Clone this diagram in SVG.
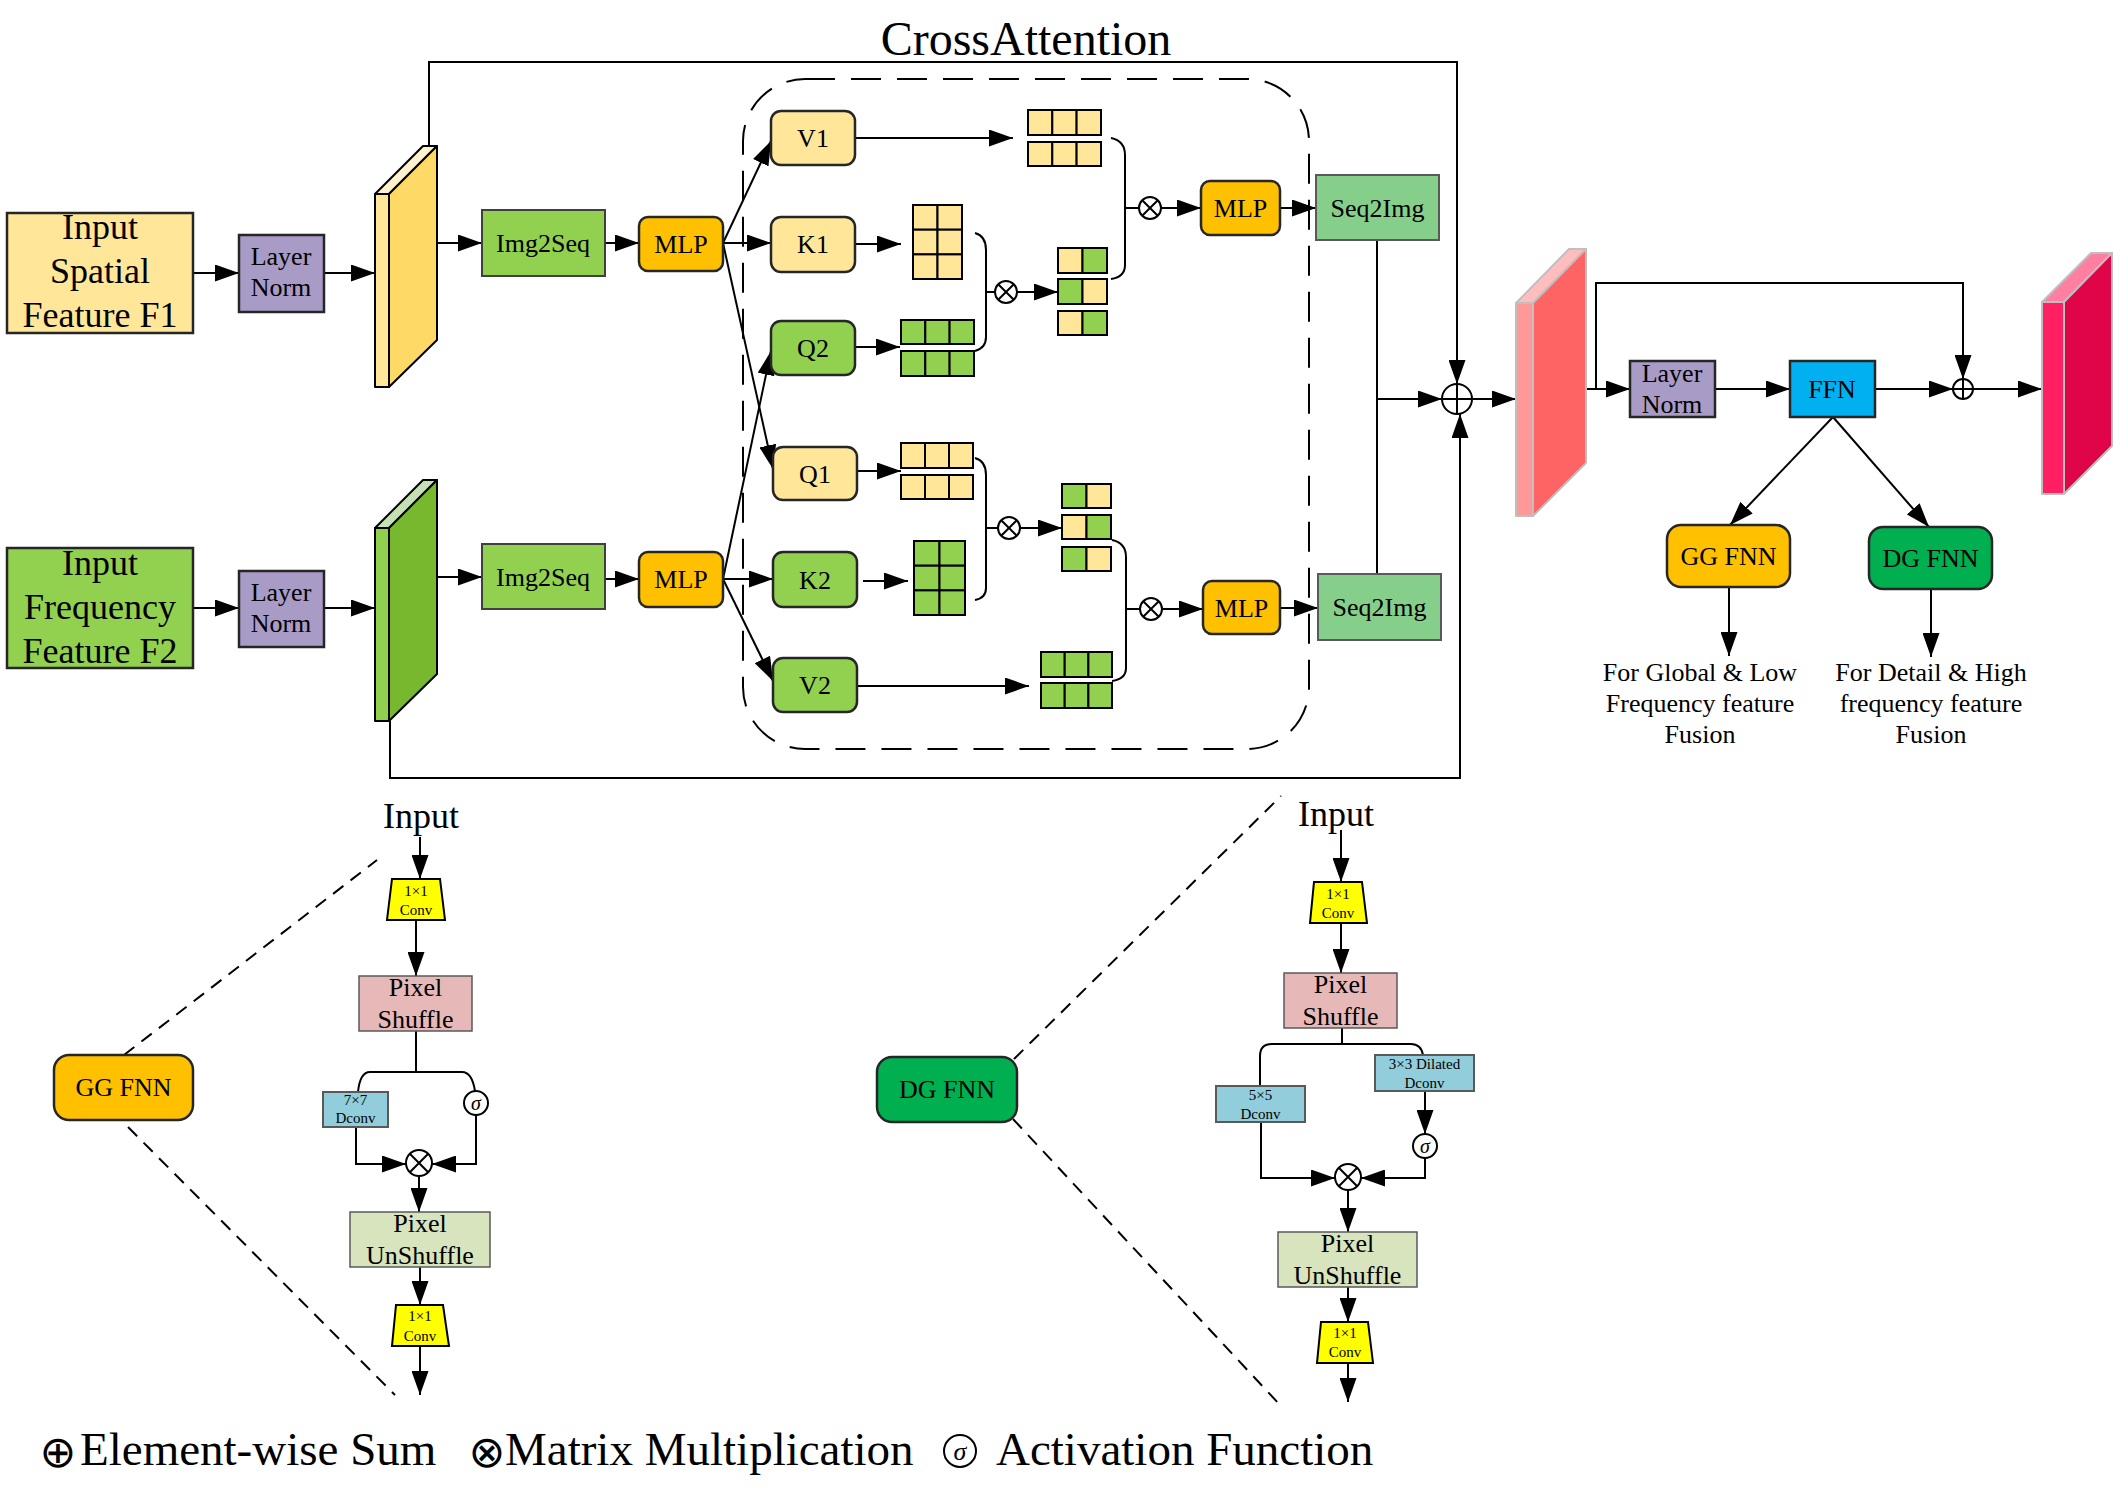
<svg xmlns="http://www.w3.org/2000/svg" width="2114" height="1500" viewBox="0 0 2114 1500">
<defs>
<marker id="ah" markerUnits="userSpaceOnUse" markerWidth="24" markerHeight="17" refX="24" refY="8.5" orient="auto"><path d="M0,0 L24,8.5 L0,17 z" fill="#000"/></marker>
<style>
.t{font-family:"Liberation Serif","Times New Roman",serif;fill:#000;text-anchor:middle}
.f36{font-size:36px}.f26{font-size:26px}.f15{font-size:15px}.f48{font-size:48px}
.ln{stroke:#000;stroke-width:2;fill:none}
.ar{stroke:#000;stroke-width:2;fill:none;marker-end:url(#ah)}
.dash{stroke:#000;stroke-width:2;fill:none;stroke-dasharray:13 9}
.box{stroke:#262626;stroke-width:2.5}
.cy{fill:#FFE699;stroke:#000;stroke-width:2}
.cg{fill:#92D050;stroke:#000;stroke-width:2}
.op{fill:#fff;stroke:#000;stroke-width:2}
</style>
</defs>
<rect width="2114" height="1500" fill="#fff"/>

<g id="title"><text class="t f48" x="1026" y="55">CrossAttention</text></g>

<g id="connectors">
<rect x="743" y="79" width="566" height="670" rx="62" fill="none" stroke="#000" stroke-width="2" stroke-dasharray="30 16"/>
<path class="ar" d="M193,273 H239"/>
<path class="ar" d="M324,273 H375"/>
<path class="ar" d="M437,243 H482"/>
<path class="ar" d="M605,243 H639"/>
<path class="ar" d="M723,243 L771,141"/>
<path class="ar" d="M723,243 H771"/>
<path class="ar" d="M723,243 L773,469"/>
<path class="ar" d="M723,579 L771,351"/>
<path class="ar" d="M723,579 H773"/>
<path class="ar" d="M723,579 L773,681"/>
<path class="ar" d="M193,608 H239"/>
<path class="ar" d="M324,608 H375"/>
<path class="ar" d="M437,577 H482"/>
<path class="ar" d="M605,579 H639"/>
<path class="ar" d="M429,146 V62 H1457 V384"/>
<path class="ar" d="M390,721 V778 H1460 V414"/>
<path class="ar" d="M855,138 H1013"/>
<path class="ar" d="M855,244 H901"/>
<path class="ar" d="M855,347 H900"/>
<path class="ln" d="M975,233 Q986,236 986,250 V337 Q986,348 975,351 M986,292 H995"/>
<path class="ar" d="M1017,292 H1058"/>
<path class="ln" d="M1111,138 Q1125,141 1125,155 V265 Q1125,277 1111,279 M1125,208 H1139"/>
<path class="ar" d="M1161,208 H1201"/>
<path class="ar" d="M1280,208 H1316"/>
<path class="ln" d="M1377,240 V574"/>
<path class="ar" d="M1377,399 H1442"/>
<path class="ar" d="M857,471 H901"/>
<path class="ar" d="M863,581 H908"/>
<path class="ar" d="M857,686 H1029"/>
<path class="ln" d="M975,458 Q986,461 986,475 V588 Q986,598 975,600 M986,528 H998"/>
<path class="ar" d="M1020,528 H1062"/>
<path class="ln" d="M1112,540 Q1126,543 1126,557 V668 Q1126,679 1112,681 M1126,609 H1140"/>
<path class="ar" d="M1162,609 H1203"/>
<path class="ar" d="M1280,608 H1318"/>
<path class="ar" d="M1472,399 H1516"/>
<path class="ar" d="M1564,389 H1630"/>
<path class="ar" d="M1596,389 V283 H1963 V379"/>
<path class="ar" d="M1715,389 H1790"/>
<path class="ar" d="M1875,389 H1953"/>
<path class="ar" d="M1973,389 H2042"/>
<path class="ar" d="M1833,417 L1730,525"/>
<path class="ar" d="M1833,417 L1929,527"/>
<path class="ar" d="M1729,587 V656"/>
<path class="ar" d="M1931,589 V657"/>
<!-- GG FNN detail -->
<path class="ar" d="M420,837 V879"/>
<path class="ar" d="M416,920 V976"/>
<path class="ln" d="M416,1031 V1072 M358,1092 Q360,1072 370,1072 H462 Q472,1072 475,1091"/>
<path class="ar" d="M356,1127 V1164 H406"/>
<path class="ar" d="M476,1115 V1164 H432"/>
<path class="ar" d="M419,1176 V1212"/>
<path class="ar" d="M420,1267 V1305"/>
<path class="ar" d="M420,1346 V1395"/>
<path class="dash" d="M124,1055 L377,860"/>
<path class="dash" d="M128,1127 L395,1395"/>
<!-- DG FNN detail -->
<path class="ar" d="M1341,830 V882"/>
<path class="ar" d="M1341,923 V973"/>
<path class="ln" d="M1342,1028 V1044 M1260,1086 V1056 Q1260,1044 1272,1044 H1411 Q1421,1044 1423,1055"/>
<path class="ar" d="M1425,1091 V1134"/>
<path class="ar" d="M1425,1158 V1178 H1361"/>
<path class="ar" d="M1261,1122 V1178 H1335"/>
<path class="ar" d="M1348,1190 V1232"/>
<path class="ar" d="M1348,1287 V1322"/>
<path class="ar" d="M1348,1363 V1402"/>
<path class="dash" d="M1014,1059 L1281,796"/>
<path class="dash" d="M1013,1119 L1281,1406"/>
</g>

<g id="in_f1"><rect x="7" y="213" width="186" height="120" fill="#FFE699" class="box"/>
<text class="t f36" x="100" y="239">Input</text><text class="t f36" x="100" y="283">Spatial</text><text class="t f36" x="100" y="327">Feature F1</text></g>
<g id="ln1"><rect x="239" y="235" width="85" height="77" fill="#A89BC5" class="box"/>
<text class="t f26" x="281" y="265">Layer</text><text class="t f26" x="281" y="296">Norm</text></g>
<g id="slab1" stroke="#000" stroke-width="2" stroke-linejoin="round">
<polygon points="375,194 389,194 389,387 375,387" fill="#FFE699"/>
<polygon points="375,194 423,146 437,146 389,194" fill="#FFF2CC"/>
<polygon points="389,194 437,146 437,340 389,387" fill="#FFD966"/></g>
<g id="img2seq1"><rect x="482" y="210" width="123" height="66" fill="#92D050" stroke="#404040" stroke-width="2"/><text class="t f26" x="543" y="252">Img2Seq</text></g>
<g id="mlp1"><rect x="639" y="217" width="84" height="54" rx="9" fill="#FFC000" class="box"/><text class="t f26" x="681" y="253">MLP</text></g>
<g id="v1"><rect x="771" y="111" width="84" height="54" rx="10" fill="#FFE699" class="box"/><text class="t f26" x="813" y="147">V1</text></g>
<g id="k1"><rect x="771" y="217" width="84" height="55" rx="10" fill="#FFE699" class="box"/><text class="t f26" x="813" y="253">K1</text></g>
<g id="q2"><rect x="771" y="321" width="84" height="54" rx="10" fill="#92D050" class="box"/><text class="t f26" x="813" y="357">Q2</text></g>
<g id="grid_v1"><rect class="cy" x="1028" y="110" width="24.3" height="25"/><rect class="cy" x="1052.3" y="110" width="24.3" height="25"/><rect class="cy" x="1076.6" y="110" width="24.4" height="25"/>
<rect class="cy" x="1028" y="142" width="24.3" height="24"/><rect class="cy" x="1052.3" y="142" width="24.3" height="24"/><rect class="cy" x="1076.6" y="142" width="24.4" height="24"/></g>
<g id="grid_k1"><rect class="cy" x="913" y="205" width="24.5" height="24.7"/><rect class="cy" x="937.5" y="205" width="24.5" height="24.7"/>
<rect class="cy" x="913" y="229.7" width="24.5" height="24.7"/><rect class="cy" x="937.5" y="229.7" width="24.5" height="24.7"/>
<rect class="cy" x="913" y="254.4" width="24.5" height="24.6"/><rect class="cy" x="937.5" y="254.4" width="24.5" height="24.6"/></g>
<g id="grid_q2"><rect class="cg" x="901" y="320" width="24.3" height="24"/><rect class="cg" x="925.3" y="320" width="24.3" height="24"/><rect class="cg" x="949.6" y="320" width="24.4" height="24"/>
<rect class="cg" x="901" y="351" width="24.3" height="25"/><rect class="cg" x="925.3" y="351" width="24.3" height="25"/><rect class="cg" x="949.6" y="351" width="24.4" height="25"/></g>
<g id="otimes1"><circle class="op" cx="1006" cy="292" r="11"/><path class="ln" d="M998.2,284.2 L1013.8,299.8 M1013.8,284.2 L998.2,299.8"/></g>
<g id="grid_att1"><rect class="cy" x="1058" y="248" width="24.5" height="25"/><rect class="cg" x="1082.5" y="248" width="24.5" height="25"/>
<rect class="cg" x="1058" y="279" width="24.5" height="25"/><rect class="cy" x="1082.5" y="279" width="24.5" height="25"/>
<rect class="cy" x="1058" y="311" width="24.5" height="24"/><rect class="cg" x="1082.5" y="311" width="24.5" height="24"/></g>
<g id="otimes2"><circle class="op" cx="1150" cy="208" r="11"/><path class="ln" d="M1142.2,200.2 L1157.8,215.8 M1157.8,200.2 L1142.2,215.8"/></g>
<g id="mlp2"><rect x="1201" y="181" width="79" height="54" rx="9" fill="#FFC000" class="box"/><text class="t f26" x="1240.5" y="217">MLP</text></g>
<g id="seq2img1"><rect x="1316" y="175" width="123" height="65" fill="#86CF8A" stroke="#595959" stroke-width="2"/><text class="t f26" x="1377.5" y="217">Seq2Img</text></g>

<g id="in_f2"><rect x="7" y="548" width="186" height="120" fill="#92D050" class="box"/>
<text class="t f36" x="100" y="575">Input</text><text class="t f36" x="100" y="619">Frequency</text><text class="t f36" x="100" y="663">Feature F2</text></g>
<g id="ln2"><rect x="239" y="571" width="85" height="76" fill="#A89BC5" class="box"/>
<text class="t f26" x="281" y="601">Layer</text><text class="t f26" x="281" y="632">Norm</text></g>
<g id="slab2" stroke="#000" stroke-width="2" stroke-linejoin="round">
<polygon points="375,528 389,528 389,721 375,721" fill="#8FD14F"/>
<polygon points="375,528 423,480 437,480 389,528" fill="#C5E0B4"/>
<polygon points="389,528 437,480 437,674 389,721" fill="#78B82F"/></g>
<g id="img2seq2"><rect x="482" y="544" width="123" height="65" fill="#92D050" stroke="#404040" stroke-width="2"/><text class="t f26" x="543" y="586">Img2Seq</text></g>
<g id="mlp3"><rect x="639" y="552" width="84" height="55" rx="9" fill="#FFC000" class="box"/><text class="t f26" x="681" y="588">MLP</text></g>
<g id="q1"><rect x="773" y="447" width="84" height="53" rx="10" fill="#FFE699" class="box"/><text class="t f26" x="815" y="483">Q1</text></g>
<g id="k2"><rect x="773" y="552" width="84" height="55" rx="10" fill="#92D050" class="box"/><text class="t f26" x="815" y="589">K2</text></g>
<g id="v2"><rect x="773" y="658" width="84" height="54" rx="10" fill="#92D050" class="box"/><text class="t f26" x="815" y="694">V2</text></g>
<g id="grid_q1"><rect class="cy" x="901" y="443" width="24" height="25"/><rect class="cy" x="925" y="443" width="24" height="25"/><rect class="cy" x="949" y="443" width="24" height="25"/>
<rect class="cy" x="901" y="475" width="24" height="24"/><rect class="cy" x="925" y="475" width="24" height="24"/><rect class="cy" x="949" y="475" width="24" height="24"/></g>
<g id="grid_k2"><rect class="cg" x="914" y="541" width="25.5" height="24.7"/><rect class="cg" x="939.5" y="541" width="25.5" height="24.7"/>
<rect class="cg" x="914" y="565.7" width="25.5" height="24.7"/><rect class="cg" x="939.5" y="565.7" width="25.5" height="24.7"/>
<rect class="cg" x="914" y="590.4" width="25.5" height="24.6"/><rect class="cg" x="939.5" y="590.4" width="25.5" height="24.6"/></g>
<g id="otimes3"><circle class="op" cx="1009" cy="528" r="11"/><path class="ln" d="M1001.2,520.2 L1016.8,535.8 M1016.8,520.2 L1001.2,535.8"/></g>
<g id="grid_att2"><rect class="cg" x="1062" y="484" width="24.5" height="24"/><rect class="cy" x="1086.5" y="484" width="24.5" height="24"/>
<rect class="cy" x="1062" y="515" width="24.5" height="24"/><rect class="cg" x="1086.5" y="515" width="24.5" height="24"/>
<rect class="cg" x="1062" y="547" width="24.5" height="24"/><rect class="cy" x="1086.5" y="547" width="24.5" height="24"/></g>
<g id="grid_v2"><rect class="cg" x="1041" y="652" width="23.7" height="25"/><rect class="cg" x="1064.7" y="652" width="23.7" height="25"/><rect class="cg" x="1088.4" y="652" width="23.6" height="25"/>
<rect class="cg" x="1041" y="683" width="23.7" height="25"/><rect class="cg" x="1064.7" y="683" width="23.7" height="25"/><rect class="cg" x="1088.4" y="683" width="23.6" height="25"/></g>
<g id="otimes4"><circle class="op" cx="1151" cy="609" r="11"/><path class="ln" d="M1143.2,601.2 L1158.8,616.8 M1158.8,601.2 L1143.2,616.8"/></g>
<g id="mlp4"><rect x="1203" y="581" width="77" height="53" rx="9" fill="#FFC000" class="box"/><text class="t f26" x="1241.5" y="617">MLP</text></g>
<g id="seq2img2"><rect x="1318" y="574" width="123" height="66" fill="#86CF8A" stroke="#595959" stroke-width="2"/><text class="t f26" x="1379.5" y="616">Seq2Img</text></g>

<g id="oplus1"><circle class="op" cx="1457" cy="399" r="15"/><path class="ln" d="M1442,399 H1472 M1457,384 V414"/></g>
<g id="slab3" stroke="#BFBFBF" stroke-width="2" stroke-linejoin="round">
<polygon points="1516,303 1533,303 1533,516 1516,516" fill="#FF9999"/>
<polygon points="1516,303 1569,249 1586,249 1533,303" fill="#FFBDBD"/>
<polygon points="1533,303 1586,249 1586,463 1533,516" fill="#FF6464"/></g>
<g id="ln3"><rect x="1630" y="361" width="85" height="56" fill="#A89BC5" class="box"/>
<text class="t f26" x="1672" y="382">Layer</text><text class="t f26" x="1672" y="413">Norm</text></g>
<g id="ffn"><rect x="1790" y="361" width="85" height="56" fill="#00B0F0" class="box"/><text class="t f26" x="1832" y="398">FFN</text></g>
<g id="oplus2"><circle class="op" cx="1963" cy="389" r="10"/><path class="ln" d="M1953,389 H1973 M1963,379 V399"/></g>
<g id="slab4" stroke="#BFBFBF" stroke-width="2" stroke-linejoin="round">
<polygon points="2042,302 2064,302 2064,494 2042,494" fill="#FF1F62"/>
<polygon points="2042,302 2091,253 2112,253 2064,302" fill="#FF7FA3"/>
<polygon points="2064,302 2112,253 2112,446 2064,494" fill="#DF0548"/></g>
<g id="gg_fnn"><rect x="1667" y="525" width="123" height="62" rx="14" fill="#FFC000" class="box"/><text class="t f26" x="1728.5" y="565">GG FNN</text></g>
<g id="dg_fnn"><rect x="1869" y="527" width="123" height="62" rx="14" fill="#00B050" class="box"/><text class="t f26" x="1930.5" y="567">DG FNN</text></g>
<g id="note_gg"><text class="t f26" x="1700" y="681">For Global &amp; Low</text><text class="t f26" x="1700" y="712">Frequency feature</text><text class="t f26" x="1700" y="743">Fusion</text></g>
<g id="note_dg"><text class="t f26" x="1931" y="681">For Detail &amp; High</text><text class="t f26" x="1931" y="712">frequency feature</text><text class="t f26" x="1931" y="743">Fusion</text></g>

<!-- GG FNN detail -->
<g id="gg_input"><text class="t f36" x="421" y="828">Input</text></g>
<g id="gg_conv1"><polygon points="392,879 440,879 445,920 387,920" fill="#FFFF00" stroke="#000" stroke-width="2"/><text class="t f15" x="416" y="896">1×1</text><text class="t f15" x="416" y="915">Conv</text></g>
<g id="gg_pshuffle"><rect x="359" y="976" width="113" height="55" fill="#E6B9B8" stroke="#595959" stroke-width="1.5"/><text class="t f26" x="415.5" y="996">Pixel</text><text class="t f26" x="415.5" y="1028">Shuffle</text></g>
<g id="gg_dconv"><rect x="323" y="1092" width="65" height="35" fill="#92CDDC" stroke="#595959" stroke-width="2"/><text class="t f15" x="355.5" y="1105">7×7</text><text class="t f15" x="355.5" y="1123">Dconv</text></g>
<g id="gg_sigma"><circle class="op" cx="476" cy="1103" r="12"/><text class="t" x="476" y="1110" font-size="20" font-style="italic">σ</text></g>
<g id="gg_otimes"><circle class="op" cx="419" cy="1163" r="13"/><path class="ln" d="M409.8,1153.8 L428.2,1172.2 M428.2,1153.8 L409.8,1172.2"/></g>
<g id="gg_punshuffle"><rect x="350" y="1212" width="140" height="55" fill="#D7E4BD" stroke="#595959" stroke-width="1.5"/><text class="t f26" x="420" y="1232">Pixel</text><text class="t f26" x="420" y="1264">UnShuffle</text></g>
<g id="gg_conv2"><polygon points="396,1305 443,1305 449,1346 392,1346" fill="#FFFF00" stroke="#000" stroke-width="2"/><text class="t f15" x="420" y="1321">1×1</text><text class="t f15" x="420" y="1341">Conv</text></g>
<g id="gg_fnn_big"><rect x="54" y="1055" width="139" height="65" rx="15" fill="#FFC000" class="box"/><text class="t f26" x="123.5" y="1096">GG FNN</text></g>

<!-- DG FNN detail -->
<g id="dg_input"><text class="t f36" x="1336" y="826">Input</text></g>
<g id="dg_conv1"><polygon points="1314,882 1362,882 1367,923 1310,923" fill="#FFFF00" stroke="#000" stroke-width="2"/><text class="t f15" x="1338" y="899">1×1</text><text class="t f15" x="1338" y="918">Conv</text></g>
<g id="dg_pshuffle"><rect x="1284" y="973" width="113" height="55" fill="#E6B9B8" stroke="#595959" stroke-width="1.5"/><text class="t f26" x="1340.5" y="993">Pixel</text><text class="t f26" x="1340.5" y="1025">Shuffle</text></g>
<g id="dg_dconv5"><rect x="1216" y="1086" width="89" height="36" fill="#92CDDC" stroke="#595959" stroke-width="2"/><text class="t f15" x="1260.5" y="1100">5×5</text><text class="t f15" x="1260.5" y="1119">Dconv</text></g>
<g id="dg_dconv3"><rect x="1375" y="1055" width="99" height="36" fill="#92CDDC" stroke="#595959" stroke-width="2"/><text class="t f15" x="1424.5" y="1069">3×3 Dilated</text><text class="t f15" x="1424.5" y="1088">Dconv</text></g>
<g id="dg_sigma"><circle class="op" cx="1425" cy="1146" r="12"/><text class="t" x="1425" y="1153" font-size="20" font-style="italic">σ</text></g>
<g id="dg_otimes"><circle class="op" cx="1348" cy="1177" r="13"/><path class="ln" d="M1338.8,1167.8 L1357.2,1186.2 M1357.2,1167.8 L1338.8,1186.2"/></g>
<g id="dg_punshuffle"><rect x="1278" y="1232" width="139" height="55" fill="#D7E4BD" stroke="#595959" stroke-width="1.5"/><text class="t f26" x="1347.5" y="1252">Pixel</text><text class="t f26" x="1347.5" y="1284">UnShuffle</text></g>
<g id="dg_conv2"><polygon points="1321,1322 1368,1322 1373,1363 1317,1363" fill="#FFFF00" stroke="#000" stroke-width="2"/><text class="t f15" x="1345" y="1338">1×1</text><text class="t f15" x="1345" y="1357">Conv</text></g>
<g id="dg_fnn_big"><rect x="877" y="1057" width="140" height="65" rx="15" fill="#00B050" class="box"/><text class="t f26" x="947" y="1098">DG FNN</text></g>

<g id="legend">
<text x="58" y="1467" font-family="DejaVu Sans,sans-serif" font-size="44" text-anchor="middle">⊕</text>
<text class="t" x="80" y="1465" font-size="47" style="text-anchor:start">Element-wise Sum</text>
<text x="487" y="1467" font-family="DejaVu Sans,sans-serif" font-size="44" text-anchor="middle">⊗</text>
<text class="t" x="505" y="1465" font-size="47" style="text-anchor:start">Matrix Multiplication</text>
<circle cx="960" cy="1451" r="16" fill="none" stroke="#000" stroke-width="2"/>
<text class="t" x="960" y="1460" font-size="26" font-style="italic">σ</text>
<text class="t" x="996" y="1465" font-size="47" style="text-anchor:start">Activation Function</text>
</g>
</svg>
